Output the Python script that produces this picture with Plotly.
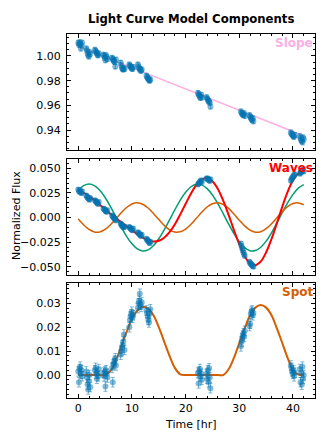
import plotly.graph_objects as go

# observation times [hr], 15 visits
time_hr = [
    0.00, 0.12, 0.24, 0.36, 0.48, 0.60, 0.72,
    1.50, 1.62, 1.74, 1.86, 1.98, 2.10, 2.22,
    3.10, 3.22, 3.34, 3.46, 3.58, 3.70, 3.82,
    4.70, 4.82, 4.94, 5.06, 5.18, 5.30, 5.42,
    6.30, 6.42, 6.54, 6.66, 6.78, 6.90, 7.02,
    7.90, 8.02, 8.14, 8.26, 8.38, 8.50, 8.62,
    9.50, 9.62, 9.74, 9.86, 9.98, 10.10, 10.22,
    11.10, 11.22, 11.34, 11.46, 11.58, 11.70, 11.82,
    12.70, 12.82, 12.94, 13.06, 13.18, 13.30, 13.42,
    22.30, 22.42, 22.54, 22.66, 22.78, 22.90, 23.02,
    23.90, 24.02, 24.14, 24.26, 24.38, 24.50, 24.62,
    30.30, 30.42, 30.54, 30.66, 30.78, 30.90, 31.02,
    31.90, 32.02, 32.14, 32.26, 32.38, 32.50, 32.62,
    39.60, 39.72, 39.84, 39.96, 40.08, 40.20, 40.32,
    41.28, 41.40, 41.52, 41.64, 41.76, 41.88, 42.00,
]

slope_data = [
    1.0105, 1.0090, 1.0112, 1.0098, 1.0060, 1.0085, 1.0108,
    1.0060, 1.0045, 1.0020, 1.0005, 0.9995, 1.0030, 1.0015,
    1.0050, 1.0040, 1.0030, 1.0025, 1.0010, 1.0005, 1.0020,
    1.0010, 1.0000, 0.9985, 0.9965, 1.0005, 0.9990, 0.9975,
    0.9985, 0.9975, 0.9965, 0.9960, 0.9950, 0.9915, 0.9970,
    0.9945, 0.9925, 0.9905, 0.9895, 0.9890, 0.9900, 0.9895,
    0.9930, 0.9920, 0.9915, 0.9905, 0.9900, 0.9895, 0.9910,
    0.9930, 0.9915, 0.9900, 0.9895, 0.9885, 0.9880, 0.9890,
    0.9840, 0.9830, 0.9820, 0.9815, 0.9805, 0.9800, 0.9810,
    0.9700, 0.9690, 0.9680, 0.9670, 0.9660, 0.9685, 0.9665,
    0.9665, 0.9655, 0.9645, 0.9635, 0.9630, 0.9620, 0.9590,
    0.9550, 0.9540, 0.9530, 0.9525, 0.9520, 0.9535, 0.9515,
    0.9520, 0.9510, 0.9500, 0.9490, 0.9480, 0.9495, 0.9470,
    0.9380, 0.9370, 0.9365, 0.9355, 0.9350, 0.9345, 0.9360,
    0.9350, 0.9335, 0.9320, 0.9310, 0.9300, 0.9340, 0.9325,
]

waves_data = [
    0.0285, 0.0270, 0.0262, 0.0278, 0.0255, 0.0248, 0.0265,
    0.0225, 0.0212, 0.0205, 0.0195, 0.0188, 0.0180, 0.0198,
    0.0175, 0.0168, 0.0160, 0.0152, 0.0145, 0.0138, 0.0158,
    0.0092, 0.0085, 0.0078, 0.0070, 0.0062, 0.0058, 0.0075,
    0.0020, 0.0012, 0.0002, -0.0005, -0.0012, -0.0020, -0.0030,
    -0.0060, -0.0072, -0.0080, -0.0088, -0.0095, -0.0100, -0.0090,
    -0.0095, -0.0105, -0.0110, -0.0118, -0.0125, -0.0130, -0.0112,
    -0.0150, -0.0158, -0.0165, -0.0172, -0.0180, -0.0188, -0.0175,
    -0.0215, -0.0225, -0.0232, -0.0240, -0.0250, -0.0262, -0.0245,
    0.0335, 0.0345, 0.0352, 0.0362, 0.0370, 0.0378, 0.0360,
    0.0395, 0.0400, 0.0392, 0.0385, 0.0380, 0.0372, 0.0388,
    -0.0265, -0.0290, -0.0315, -0.0335, -0.0355, -0.0375, -0.0390,
    -0.0450, -0.0462, -0.0470, -0.0478, -0.0485, -0.0492, -0.0500,
    0.0375, 0.0390, 0.0400, 0.0410, 0.0420, 0.0430, 0.0438,
    0.0445, 0.0455, 0.0462, 0.0470, 0.0478, 0.0485, 0.0468,
]

spot_data = [
    0.0015, -0.0030, 0.0025, 0.0035, 0.0005, 0.0020, -0.0005,
    0.0015, -0.0010, -0.0040, -0.0060, -0.0025, 0.0000, -0.0050,
    0.0020, 0.0030, 0.0005, -0.0015, 0.0010, -0.0005, 0.0025,
    0.0010, -0.0005, 0.0015, -0.0048, 0.0020, 0.0005, -0.0010,
    0.0030, -0.0030, 0.0045, 0.0050, 0.0060, 0.0070, 0.0040,
    0.0085, 0.0100, 0.0115, 0.0125, 0.0140, 0.0170, 0.0105,
    0.0200, 0.0230, 0.0245, 0.0255, 0.0265, 0.0240, 0.0250,
    0.0280, 0.0300, 0.0310, 0.0340, 0.0295, 0.0285, 0.0305,
    0.0270, 0.0260, 0.0245, 0.0230, 0.0220, 0.0255, 0.0275,
    0.0010, -0.0035, 0.0015, 0.0025, -0.0005, 0.0005, -0.0020,
    0.0005, -0.0015, 0.0020, -0.0030, 0.0028, -0.0010, -0.0055,
    0.0120, 0.0140, 0.0155, 0.0165, 0.0175, 0.0160, 0.0185,
    0.0205, 0.0215, 0.0255, 0.0265, 0.0270, 0.0250, 0.0260,
    0.0040, 0.0030, 0.0015, 0.0005, 0.0020, -0.0005, 0.0010,
    0.0025, -0.0030, 0.0010, -0.0040, 0.0035, -0.0015, 0.0000,
]

flux_err = 0.002

# model curves, sampled every hour
model_time = [0, 1, 2, 3, 4, 5, 6, 7, 8, 9, 10, 11, 12, 13, 14, 15, 16, 17, 18, 19, 20,
              21, 22, 23, 24, 25, 26, 27, 28, 29, 30, 31, 32, 33, 34, 35, 36, 37, 38, 39, 40, 41, 42]

slope_time = [0, 42]
slope_model = [1.0078, 0.9353]

wave_a = [0.0277, 0.0324, 0.0340, 0.0324, 0.0277, 0.0204, 0.0111, 0.0008, -0.0096, -0.0191,
          -0.0267, -0.0319, -0.0340, -0.0328, -0.0286, -0.0216, -0.0126, -0.0024, 0.0080, 0.0177,
          0.0257, 0.0313, 0.0339, 0.0332, 0.0294, 0.0229, 0.0141, 0.0040, -0.0065, -0.0163,
          -0.0246, -0.0306, -0.0337, -0.0335, -0.0302, -0.0240, -0.0155, -0.0055, 0.0049, 0.0149,
          0.0235, 0.0299, 0.0334]
wave_b = [-0.0014, -0.0074, -0.0121, -0.0147, -0.0147, -0.0121, -0.0074, -0.0014, 0.0048, 0.0102,
          0.0138, 0.0150, 0.0135, 0.0097, 0.0042, -0.0020, -0.0079, -0.0125, -0.0148, -0.0145,
          -0.0117, -0.0069, -0.0008, 0.0054, 0.0107, 0.0140, 0.0150, 0.0133, 0.0093, 0.0036,
          -0.0027, -0.0085, -0.0128, -0.0149, -0.0144, -0.0113, -0.0063, -0.0002, 0.0060, 0.0111,
          0.0143, 0.0149, 0.0130]
wave_total = [0.0263, 0.0250, 0.0219, 0.0177, 0.0130, 0.0083, 0.0037, -0.0006, -0.0048, -0.0089,
              -0.0129, -0.0169, -0.0205, -0.0231, -0.0244, -0.0236, -0.0205, -0.0149, -0.0068, 0.0032,
              0.0140, 0.0244, 0.0331, 0.0386, 0.0401, 0.0369, 0.0291, 0.0173, 0.0028, -0.0127,
              -0.0273, -0.0391, -0.0465, -0.0484, -0.0446, -0.0353, -0.0218, -0.0057, 0.0109, 0.0260,
              0.0378, 0.0448, 0.0464]

spot_model = [0, 0, 0, 0, 0, 0, 0.0018, 0.0060, 0.0120, 0.0180,
              0.0235, 0.0270, 0.0285, 0.0278, 0.0250, 0.0200, 0.0140, 0.0080, 0.0030, 0.0003,
              0, 0, 0, 0, 0, 0, 0, 0, 0.0024, 0.0072,
              0.0134, 0.0195, 0.0250, 0.0282, 0.0293, 0.0282, 0.0250, 0.0195, 0.0134, 0.0072,
              0.0020, 0.0002, 0]

# page body adds an 8px margin, so the figure is drawn 8px smaller and
# screen positions below are shifted by that much
OFF = 8
W, H = 332 - OFF, 443 - OFF
FONT = "DejaVu Sans"
PT_COL = "rgba(1,115,178,0.5)"


def px(x):
    return (x - OFF) / W


def py(y):
    return 1 - (y - OFF) / H


fig = go.Figure()


def add_line(x, y, color, width, ax):
    fig.add_trace(go.Scatter(x=x, y=y, mode="lines", line=dict(color=color, width=width, shape="spline"),
                             xaxis="x" + ax, yaxis="y" + ax, hoverinfo="skip"))


def add_points(y, ax):
    fig.add_trace(go.Scatter(x=time_hr, y=y, mode="markers",
                             marker=dict(color=PT_COL, size=6, line=dict(width=0)),
                             error_y=dict(type="constant", value=flux_err, color=PT_COL, thickness=1, width=2),
                             xaxis="x" + ax, yaxis="y" + ax))


add_line(slope_time, slope_model, "#fbafe4", 1.5, "")
add_points(slope_data, "")

add_line(model_time, wave_a, "#029e73", 1.5, "2")
add_line(model_time, wave_b, "#d55e00", 1.5, "2")
add_line(model_time, wave_total, "red", 2, "2")
add_points(waves_data, "2")

add_line(model_time, spot_model, "#d55e00", 2, "3")
add_points(spot_data, "3")

xdom = [px(67), px(315)]


def xax(show_labels):
    return dict(domain=xdom, range=[-2.1, 44.1], tick0=0, dtick=10, ticks="inside", ticklen=4,
                tickwidth=1, tickcolor="black", mirror="allticks", showline=True, linecolor="black",
                linewidth=1, showgrid=False, zeroline=False, showticklabels=show_labels,
                minor=dict(dtick=2, ticks="inside", ticklen=2, tickcolor="black"),
                tickfont=dict(size=11, family=FONT, color="black"))


def yax(top, bottom, rng, dtick, minor, fmt):
    return dict(domain=[py(bottom), py(top)], range=rng, tick0=0, dtick=dtick,
                tickformat=fmt, ticks="inside", ticklen=4, tickwidth=1, tickcolor="black",
                mirror="allticks", showline=True, linecolor="black", linewidth=1, showgrid=False,
                zeroline=False, minor=dict(dtick=minor, ticks="inside", ticklen=2, tickcolor="black"),
                tickfont=dict(size=11, family=FONT, color="black"), ticklabelstandoff=3)


fig.update_layout(
    width=W, height=H, showlegend=False,
    margin=dict(l=0, r=0, t=0, b=0),
    paper_bgcolor="white", plot_bgcolor="white",
    font=dict(family=FONT, color="black", size=11),
    xaxis=dict(xax(False), anchor="y"),
    xaxis2=dict(xax(False), anchor="y2"),
    xaxis3=dict(xax(True), anchor="y3"),
    yaxis=dict(yax(34, 150, [0.9238, 1.0178], 0.02, 0.005, ".2f"), anchor="x"),
    yaxis2=dict(yax(159, 275, [-0.0584, 0.0595], 0.025, 0.005, ".3f"), anchor="x2"),
    yaxis3=dict(yax(283, 398, [-0.0096, 0.0385], 0.01, 0.002, ".2f"), anchor="x3"),
)

labels = [("Slope", "#fbafe4", ""), ("Waves", "red", "2"), ("Spot", "#d55e00", "3")]
for txt, col, ax in labels:
    fig.add_annotation(text="<b>%s</b>" % txt, xref="x%s domain" % ax, yref="y%s domain" % ax,
                       x=1, y=1, xanchor="right", yanchor="top", showarrow=False,
                       font=dict(size=12, color=col, family=FONT))

fig.add_annotation(text="<b>Light Curve Model Components</b>", xref="paper", yref="paper",
                   x=px(191), y=py(19), xanchor="center", yanchor="middle", showarrow=False,
                   font=dict(size=11.7, family=FONT))
fig.add_annotation(text="Normalized Flux", xref="paper", yref="paper", textangle=-90,
                   x=px(16), y=py(216), xanchor="center", yanchor="middle", showarrow=False,
                   font=dict(size=11, family=FONT))
fig.add_annotation(text="Time [hr]", xref="paper", yref="paper",
                   x=px(191), y=py(424), xanchor="center", yanchor="middle", showarrow=False,
                   font=dict(size=11, family=FONT))

fig.write_html("out.html")
